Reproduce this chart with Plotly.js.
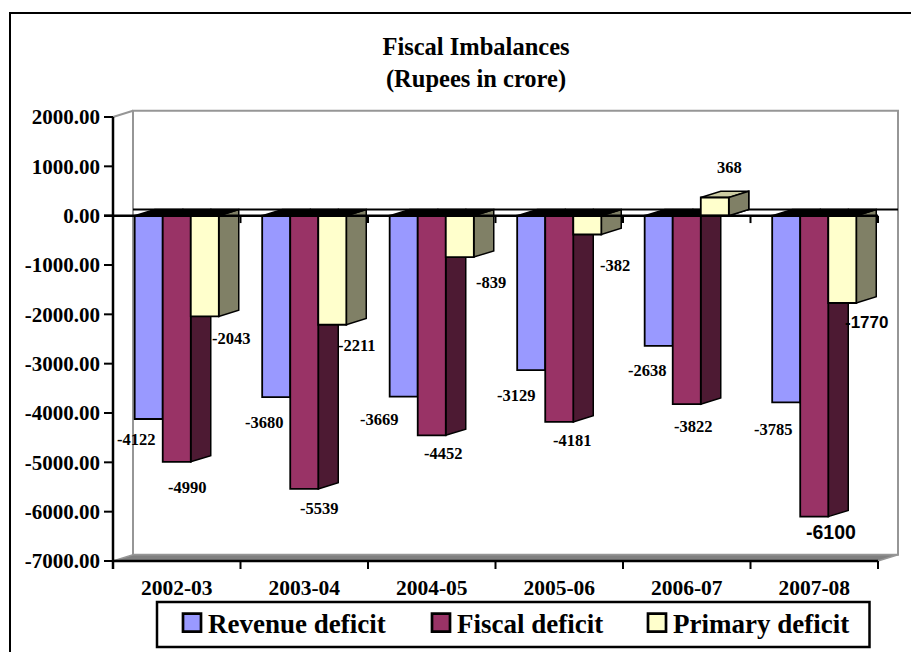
<!DOCTYPE html>
<html><head><meta charset="utf-8">
<script src="https://cdn.plot.ly/plotly-3.0.1.min.js"></script>
<style>html,body{margin:0;padding:0;background:#fff;overflow:hidden}</style>
</head><body><div id="chart" style="width:911px;height:652px"></div>
<script>
const categories = ['2002-03','2003-04','2004-05','2005-06','2006-07','2007-08'];
const revenueDeficit = [-4122,-3680,-3669,-3129,-2638,-3785];
const fiscalDeficit  = [-4990,-5539,-4452,-4181,-3822,-6100];
const primaryDeficit = [-2043,-2211,-839,-382,368,-1770];
const seriesNames = ['Revenue deficit','Fiscal deficit','Primary deficit'];
const frontColors = ['#9999FF','#993366','#FFFFCC'];
const sideColors  = ['#4D4D80','#4D1A33','#808066'];
const topColors   = ['#B8B8E6','#B86A8C','#CCCCA3'];
const yTicks = [2000,1000,0,-1000,-2000,-3000,-4000,-5000,-6000,-7000];
const yTickText = yTicks.map(v=>v.toFixed(2));
// hand-placed data-label nudges from each bar's end (px)
const labelDx = [[-12,-12,-24,-15,-11,-13],[11,15,12,13,7,17],[27,25,31,28,15,24]];
const labelDy = [[-20,-25,-23,-25,-25,-27],[-26,-20,-18,-19,-22,-15],[-22.5,-21,-25,-30.5,30.5,-20]];
const sansLabels = [-6100,-1770];
const legendLeft = [168,417,633];

const W=911,H=652, L=104,R=901,T=108,B=569;
const pxX=127.5, pxY=0.04933;
const xlo=-0.5-(113-L)/pxX, xhi=-0.5+(R-113)/pxX;
const ylo=-7000-(B-561)/pxY, yhi=2000+(117-T)/pxY;
const dx=20/pxX, dy=6.2/pxY, bw=28/pxX;
const series=[revenueDeficit,fiscalDeficit,primaryDeficit];
const xN=categories.length;
const idx=categories.map((_,i)=>i);
const paperX=p=>(p-L)/(R-L), paperY=p=>(B-p)/(B-T);

function poly(pts,fill,lc,lw,layer){
  return {type:'path',xref:'x',yref:'y',layer:layer||'below',
    path:'M'+pts.map(p=>p[0]+','+p[1]).join('L')+'Z',fillcolor:fill,line:{color:lc||'#000',width:lw==null?1.5:lw}};
}
function seg(x0,y0,x1,y1,c,w,layer){
  return {type:'line',xref:'x',yref:'y',layer:layer||'below',x0,y0,x1,y1,line:{color:c||'#000',width:w||2}};
}
const shapes=[];
// wall & floor
shapes.push(poly([[-0.5+dx,-7000+dy],[-0.5+dx,2000+dy],[xN-0.5+dx,2000+dy],[xN-0.5+dx,-7000+dy]],'#FFFFFF','#969696',2));
shapes.push(poly([[-0.5,-7000],[xN-0.5,-7000],[xN-0.5+dx,-7000+dy],[-0.5+dx,-7000+dy]],'#808080','#969696',1.5));
shapes.push(seg(-0.5,2000,-0.5+dx,2000+dy,'#969696',2));
// back zero line
shapes.push(seg(-0.5+dx,dy,xN-0.5+dx,dy,'#000',2));
// front zero line with its short ticks
idx.forEach(i=>shapes.push(seg(i+0.5,0,i+0.5,-150,'#000',2)));
// bar sides and tops
series.forEach((vals,b)=>vals.forEach((v,i)=>{
  const xl=i+(b-1)*bw-bw/2, xr=xl+bw;
  shapes.push(poly([[xr,0],[xr+dx,dy],[xr+dx,v+dy],[xr,v]],sideColors[b]));
  if(v>=0){
    shapes.push(poly([[xl,v],[xr,v],[xr+dx,v+dy],[xl+dx,v+dy]],topColors[b]));
    shapes.push(poly([[xr,0],[xr+dx,dy],[xr+dx,v+dy],[xr,v]],sideColors[b]));
  } else {
    shapes.push(poly([[xl,0],[xr,0],[xr+dx,dy],[xl+dx,dy]],'#000000'));
  }
}));
shapes.push(seg(xlo,0,xN-0.5,0,'#000',2.5,'above'));
// axes
shapes.push(seg(-0.5,2000,-0.5,ylo,'#000',2.5,'above'));
shapes.push(seg(-0.5,-7000,xN-0.5,-7000,'#000',2.5,'above'));
for(let i=0;i<=xN;i++) shapes.push(seg(i-0.5,-7000,i-0.5,ylo,'#000',2,'above'));
yTicks.forEach(v=>shapes.push(seg(xlo,v,-0.5,v,'#000',2,'above')));
// frame (open on the right, runs off the page)
shapes.push({type:'rect',xref:'paper',yref:'paper',layer:'above',
  x0:paperX(10),x1:paperX(930),y0:paperY(670),y1:paperY(13),line:{color:'#000',width:2},fillcolor:'rgba(0,0,0,0)'});
// legend box
shapes.push({type:'rect',xref:'paper',yref:'paper',layer:'above',
  x0:paperX(157),x1:paperX(869.5),y0:paperY(647),y1:paperY(602),line:{color:'#000',width:2.5},fillcolor:'rgba(0,0,0,0)'});

const legendIds=['legend','legend2','legend3'];
const traces=series.map((vals,b)=>({type:'bar',name:seriesNames[b],x:idx,y:vals,legend:legendIds[b],
  marker:{color:frontColors[b],line:{color:'#000',width:1.8}},hoverinfo:'skip'}));

const annotations=[];
series.forEach((vals,b)=>vals.forEach((v,i)=>{
  const sans=sansLabels.includes(v);
  annotations.push({xref:'x',yref:'y',x:i+(b-1)*bw,y:v,text:String(v),showarrow:false,
    xanchor:'center',yanchor:'middle',xshift:labelDx[b][i],yshift:labelDy[b][i],
    font:sans?{family:'"Liberation Sans",Arial,sans-serif',size:v===-6100?19.5:17,color:'#000',weight:700}
             :{family:'"Liberation Serif","Times New Roman",serif',size:16.5,color:'#000',weight:700}});
}));

const serif='"Liberation Serif","Times New Roman",serif';
const layout={width:W,height:H,paper_bgcolor:'#fff',plot_bgcolor:'#fff',
  margin:{l:L,r:W-R,t:T,b:H-B,autoexpand:false,pad:0},
  title:{text:'<b>Fiscal Imbalances<br>(Rupees in crore)</b>',font:{family:serif,size:24.5,color:'#000'},
    xref:'container',yref:'container',x:476/W,xanchor:'center',y:1-55/H,yanchor:'top'},
  barmode:'group',bargap:0.34,bargroupgap:0,
  xaxis:{type:'linear',range:[xlo,xhi],tickmode:'array',tickvals:idx,ticktext:categories.map(c=>'<b>'+c+'</b>'),
    showgrid:false,zeroline:false,showline:false,ticks:'',ticklabelstandoff:3,
    tickfont:{family:serif,size:21.5,color:'#000'}},
  yaxis:{range:[ylo,yhi],tickmode:'array',tickvals:yTicks,ticktext:yTickText.map(t=>'<b>'+t+'</b>'),
    showgrid:false,zeroline:false,showline:false,ticks:'',ticklabelstandoff:3,
    tickfont:{family:serif,size:21,color:'#000'}},
  shapes,annotations,showlegend:true};
legendIds.forEach((id,b)=>{
  layout[id]={xref:'paper',yref:'paper',x:paperX(legendLeft[b]),y:paperY(598.5),xanchor:'left',yanchor:'top',
    borderwidth:0,bgcolor:'rgba(0,0,0,0)',font:{family:serif,size:27,color:'#000',weight:700}};
});
Plotly.newPlot('chart',traces,layout,{displayModeBar:false,staticPlot:true}).then(gd=>{
  gd.querySelectorAll('.legendpoints path').forEach(p=>{
    const t=p.getAttribute('transform')||''; p.setAttribute('transform',t+' translate(4,0) scale(1.5)');
  });
});
</script></body></html>
